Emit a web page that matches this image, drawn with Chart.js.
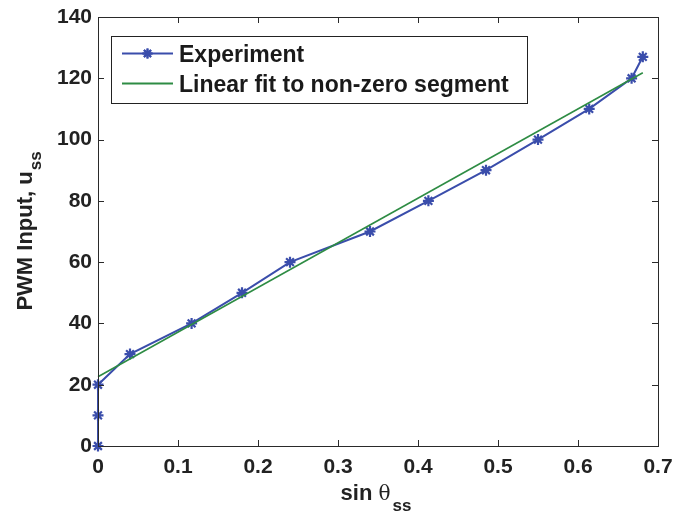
<!DOCTYPE html>
<html>
<head>
<meta charset="utf-8">
<script src="https://cdn.jsdelivr.net/npm/chart.js@4.4.1/dist/chart.umd.min.js"></script>
<style>
  html, body { margin: 0; padding: 0; background: #fff; }
  #wrap { width: 675px; height: 516px; }
</style>
</head>
<body>
<div id="wrap"><canvas id="pwm-chart" width="675" height="516"></canvas></div>
<script>
// values
var exp_x = [0, 0, 0, 0.040, 0.117, 0.180, 0.240, 0.340, 0.413, 0.485, 0.550, 0.614, 0.667, 0.681];
var exp_y = [0, 10, 20, 30, 40, 50, 60, 70, 80, 90, 100, 110, 120, 127];
var fit_x = [0, 0.681];
var fit_y = [22.6, 121.8];
var x_ticks = [0, 0.1, 0.2, 0.3, 0.4, 0.5, 0.6, 0.7];
var y_ticks = [0, 20, 40, 60, 80, 100, 120, 140];
var legend_labels = ['Experiment', 'Linear fit to non-zero segment'];

const BLUE = '#3a4dab';
const GREEN = '#2e8c44';
const INK = '#222';
const FONT = '"Liberation Sans", Arial, Helvetica, sans-serif';

const to_points = (xs, ys) => xs.map((v, i) => ({ x: v, y: ys[i] }));

// box, inward ticks, axis titles with subscripts and the boxed legend
const frame_plugin = {
    id: 'frame',
    afterDraw: (chart) => {
        const ctx = chart.ctx;
        const a = chart.chartArea;
        const sx = chart.scales.x, sy = chart.scales.y;
        ctx.save();
        ctx.strokeStyle = '#2a2a2a';
        ctx.lineWidth = 1;
        ctx.strokeRect(a.left + 0.5, a.top + 0.5, a.right - a.left, a.bottom - a.top);
        ctx.beginPath();
        for (const v of x_ticks) {
            let px = Math.round(sx.getPixelForValue(v)) + 0.5;
            ctx.moveTo(px, a.bottom); ctx.lineTo(px, a.bottom - 6);
            ctx.moveTo(px, a.top); ctx.lineTo(px, a.top + 6);
        }
        for (const v of y_ticks) {
            let py = Math.round(sy.getPixelForValue(v)) + 0.5;
            ctx.moveTo(a.left, py); ctx.lineTo(a.left + 6, py);
            ctx.moveTo(a.right, py); ctx.lineTo(a.right - 6, py);
        }
        ctx.stroke();

        // x title: sin θ_ss
        ctx.fillStyle = INK;
        ctx.textBaseline = 'alphabetic';
        ctx.textAlign = 'left';
        let parts = [
            { t: 'sin ', f: 'bold 22px ' + FONT, dy: 0 },
            { t: 'θ', f: '20px "DejaVu Serif", serif', dy: 0 },
            { t: 'ss', f: 'bold 17px ' + FONT, dy: 11 }
        ];
        let total = 0;
        for (const p of parts) { ctx.font = p.f; p.w = ctx.measureText(p.t).width; total += p.w + (p.t === 'θ' ? 2 : 0); }
        let cx = (a.left + a.right) / 2 - total / 2 - 2;
        for (const p of parts) {
            ctx.font = p.f;
            ctx.fillText(p.t, cx, 500 + p.dy);
            cx += p.w + (p.t === 'θ' ? 2 : 0);
        }

        // y title: PWM Input, u_ss
        ctx.save();
        ctx.translate(32, (a.top + a.bottom) / 2);
        ctx.rotate(-Math.PI / 2);
        ctx.font = 'bold 22px ' + FONT;
        let main = 'PWM Input, u';
        let mw = ctx.measureText(main).width;
        ctx.font = 'bold 17px ' + FONT;
        let sw = ctx.measureText('ss').width;
        let start = -(mw + sw) / 2;
        ctx.font = 'bold 22px ' + FONT;
        ctx.fillText(main, start, 0);
        ctx.font = 'bold 17px ' + FONT;
        ctx.fillText('ss', start + mw + 1, 9);
        ctx.restore();

        // legend
        ctx.fillStyle = '#fff';
        ctx.fillRect(111, 36, 416, 67);
        ctx.strokeStyle = INK;
        ctx.strokeRect(111.5, 36.5, 416, 67);
        const rows = [
            { y: 53.5, color: BLUE, width: 2, marker: true },
            { y: 83.5, color: GREEN, width: 2, marker: false }
        ];
        ctx.font = 'bold 23px ' + FONT;
        ctx.textBaseline = 'middle';
        rows.forEach((r, i) => {
            ctx.strokeStyle = r.color;
            ctx.lineWidth = r.width;
            ctx.beginPath();
            ctx.moveTo(122, r.y); ctx.lineTo(173, r.y);
            ctx.stroke();
            if (r.marker) {
                Chart.helpers.drawPoint(ctx, { pointStyle: 'star', radius: 5, borderWidth: 2 }, 147.5, r.y);
                ctx.stroke();
            }
            ctx.fillStyle = '#1a1a1a';
            ctx.fillText(legend_labels[i], 179, r.y + 2);
        });
        ctx.restore();
    }
};

new Chart(document.getElementById('pwm-chart'), {
    type: 'scatter',
    data: {
        datasets: [{
            label: legend_labels[0],
            data: to_points(exp_x, exp_y),
            showLine: true,
            clip: false,
            borderColor: BLUE,
            backgroundColor: BLUE,
            borderWidth: 2,
            pointStyle: 'star',
            pointRadius: 5.5,
            pointBorderWidth: 2.2,
            order: 2
        }, {
            label: legend_labels[1],
            data: to_points(fit_x, fit_y),
            showLine: true,
            clip: false,
            borderColor: GREEN,
            backgroundColor: GREEN,
            borderWidth: 1.6,
            pointRadius: 0,
            order: 1
        }]
    },
    options: {
        responsive: false,
        animation: false,
        devicePixelRatio: 1,
        layout: { padding: { top: 17, right: 17, left: 0, bottom: 0 } },
        plugins: {
            legend: { display: false },
            tooltip: { enabled: false }
        },
        scales: {
            x: {
                type: 'linear',
                min: 0,
                max: 0.7,
                afterFit: (s) => { s.height = 70; s.paddingLeft = 0; s.paddingRight = 0; },
                afterBuildTicks: (s) => { s.ticks = x_ticks.map(v => ({ value: v })); },
                grid: { display: false, drawTicks: false },
                border: { display: false },
                ticks: {
                    padding: 9,
                    color: INK,
                    font: { family: FONT, size: 21, weight: 'bold' },
                    callback: (v) => String(+v.toFixed(1))
                }
            },
            y: {
                type: 'linear',
                min: 0,
                max: 140,
                afterFit: (s) => { s.width = 98; s.paddingTop = 0; s.paddingBottom = 0; },
                afterBuildTicks: (s) => { s.ticks = y_ticks.map(v => ({ value: v })); },
                grid: { display: false, drawTicks: false },
                border: { display: false },
                ticks: {
                    padding: 6,
                    color: INK,
                    font: { family: FONT, size: 21, weight: 'bold' }
                }
            }
        }
    },
    plugins: [frame_plugin]
});
</script>
</body>
</html>
